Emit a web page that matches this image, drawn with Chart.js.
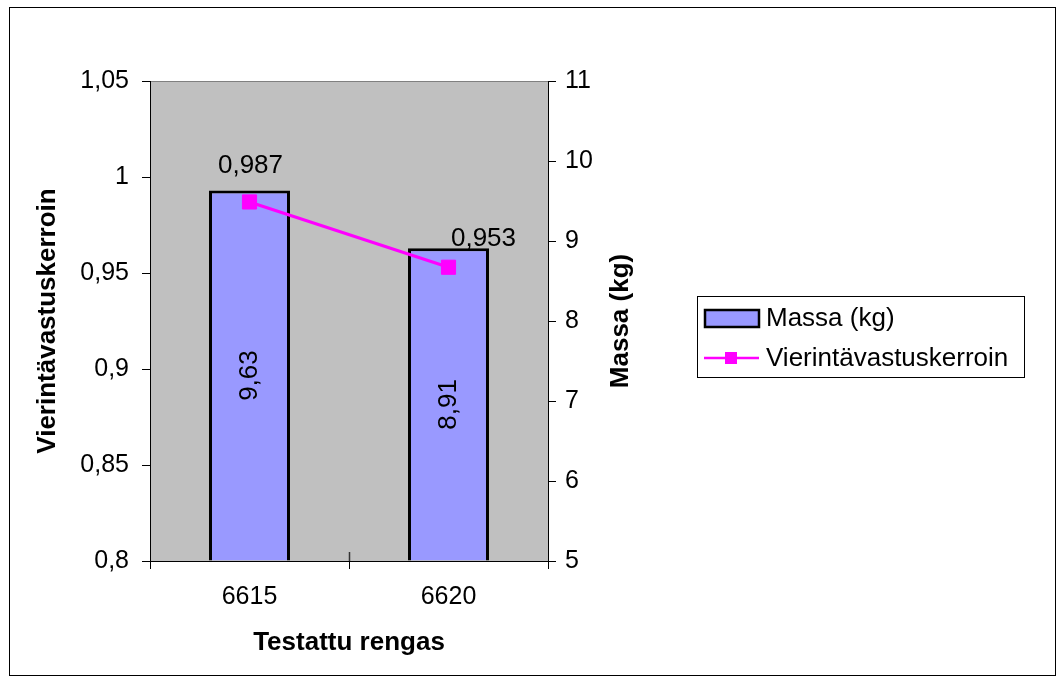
<!DOCTYPE html>
<html>
<head>
<meta charset="utf-8">
<script src="https://cdn.jsdelivr.net/npm/chart.js@4"></script>
<style>
  html, body { margin: 0; padding: 0; background: #fff; }
  #wrap { width: 1064px; height: 682px; }
</style>
</head>
<body>
<div id="wrap"><canvas id="c" width="1064" height="682"></canvas></div>
<script>
const categories = ['6615', '6620'];
const massValues = [9.63, 8.91];
const rollingValues = [0.987, 0.953];
const leftTickValues = [0.8, 0.85, 0.9, 0.95, 1, 1.05];
const leftTickLabels = ['0,8', '0,85', '0,9', '0,95', '1', '1,05'];
const rightTickValues = [5, 6, 7, 8, 9, 10, 11];
const rightTickLabels = ['5', '6', '7', '8', '9', '10', '11'];
const massLabel = 'Massa (kg)';
const rollingLabel = 'Vierintävastuskerroin';
const xTitle = 'Testattu rengas';

const FONT = '"Liberation Sans", Arial, sans-serif';
const fmt = v => String(v).replace('.', ',');

const custom = {
  id: 'custom',
  beforeDraw(chart) {
    const ctx = chart.ctx;
    const a = chart.chartArea;
    ctx.save();
    ctx.fillStyle = '#fff';
    ctx.fillRect(0, 0, chart.width, chart.height);
    ctx.strokeStyle = '#000';
    ctx.lineWidth = 1;
    ctx.strokeRect(9.5, 7.5, 1046, 668);
    ctx.fillStyle = '#C0C0C0';
    ctx.fillRect(a.left, a.top, a.right - a.left, a.bottom - a.top);
    ctx.strokeStyle = '#808080';
    ctx.beginPath();
    ctx.moveTo(a.left, a.top + 0.5);
    ctx.lineTo(a.right, a.top + 0.5);
    ctx.stroke();
    ctx.restore();
  },
  afterDatasetsDraw(chart) {
    const ctx = chart.ctx;
    const a = chart.chartArea;
    ctx.save();
    // inner part of the crossing category-boundary tick
    const xs = chart.scales.x;
    const midX = (xs.getPixelForValue(0) + xs.getPixelForValue(1)) / 2;
    ctx.strokeStyle = '#333';
    ctx.lineWidth = 1.5;
    ctx.beginPath();
    ctx.moveTo(Math.round(midX) + 0.5, a.bottom - 9);
    ctx.lineTo(Math.round(midX) + 0.5, a.bottom);
    ctx.stroke();

    ctx.fillStyle = '#000';
    ctx.font = '26px ' + FONT;
    ctx.textAlign = 'center';
    ctx.textBaseline = 'middle';
    // bar value labels (rotated, centered in bar)
    const barMeta = chart.getDatasetMeta(0);
    barMeta.data.forEach((bar, i) => {
      const cy = (bar.y + bar.base) / 2;
      ctx.save();
      ctx.translate(bar.x, cy);
      ctx.rotate(-Math.PI / 2);
      ctx.fillText(fmt(chart.data.datasets[0].data[i]), 0, 0);
      ctx.restore();
    });
    // line value labels
    const offs = [[1, -36], [35, -28]];
    const lineMeta = chart.getDatasetMeta(1);
    lineMeta.data.forEach((pt, i) => {
      ctx.fillText(fmt(chart.data.datasets[1].data[i]), pt.x + offs[i][0], pt.y + offs[i][1]);
    });
    ctx.restore();
  },
  afterDraw(chart) {
    const ctx = chart.ctx;
    const a = chart.chartArea;
    ctx.save();
    // right axis title
    ctx.fillStyle = '#000';
    ctx.font = 'bold 26px ' + FONT;
    ctx.textAlign = 'center';
    ctx.textBaseline = 'middle';
    ctx.translate(621, (a.top + a.bottom) / 2);
    ctx.rotate(-Math.PI / 2);
    ctx.fillText(massLabel, 0, 0);
    ctx.restore();

    // legend
    ctx.save();
    ctx.fillStyle = '#fff';
    ctx.fillRect(697.5, 296.5, 327, 81);
    ctx.strokeStyle = '#000';
    ctx.lineWidth = 1;
    ctx.strokeRect(697.5, 296.5, 327, 81);
    ctx.fillStyle = '#9999FF';
    ctx.fillRect(705, 310, 54, 17);
    ctx.lineWidth = 2.5;
    ctx.strokeRect(705, 310, 54, 17);
    ctx.strokeStyle = '#FF00FF';
    ctx.lineWidth = 2.5;
    ctx.beginPath();
    ctx.moveTo(704, 358);
    ctx.lineTo(759, 358);
    ctx.stroke();
    ctx.fillStyle = '#FF00FF';
    ctx.fillRect(725, 352, 12, 12);
    ctx.fillStyle = '#000';
    ctx.font = '26px ' + FONT;
    ctx.textAlign = 'left';
    ctx.textBaseline = 'middle';
    ctx.fillText(massLabel, 766, 319);
    ctx.fillText(rollingLabel, 766, 359);
    ctx.restore();
  }
};

new Chart(document.getElementById('c'), {
  type: 'bar',
  data: {
    labels: categories,
    datasets: [
      {
        type: 'bar',
        label: massLabel,
        data: massValues,
        yAxisID: 'y1',
        base: 5,
        backgroundColor: '#9999FF',
        borderColor: '#000',
        borderWidth: 3,
        barPercentage: 0.407,
        categoryPercentage: 1,
        order: 1
      },
      {
        type: 'line',
        label: rollingLabel,
        data: rollingValues,
        yAxisID: 'y',
        borderColor: '#FF00FF',
        borderWidth: 3,
        pointStyle: 'rect',
        pointRadius: 10,
        pointBackgroundColor: '#FF00FF',
        pointBorderColor: '#FF00FF',
        pointBorderWidth: 1,
        tension: 0,
        order: 0
      }
    ]
  },
  options: {
    responsive: false,
    devicePixelRatio: 1,
    animation: false,
    layout: { padding: { left: 10, top: 81, right: 416, bottom: 10 } },
    plugins: { legend: { display: false }, tooltip: { enabled: false } },
    scales: {
      x: {
        offset: true,
        grid: { offset: true, drawOnChartArea: false, tickLength: 8, color: '#000', tickColor: '#000' },
        border: { color: '#000', width: 1 },
        ticks: { padding: 13, color: '#000', font: { family: FONT, size: 25 } },
        title: { display: true, text: xTitle, color: '#000', font: { family: FONT, size: 26, weight: 'bold' }, padding: { top: 0, bottom: 14 } },
        afterFit: s => { s.height = 111; }
      },
      y: {
        position: 'left',
        min: 0.8, max: 1.05,
        afterBuildTicks: s => { s.ticks = leftTickValues.map(v => ({ value: v })); },
        ticks: { padding: 13, color: '#000', font: { family: FONT, size: 25 }, callback: (v, i) => leftTickLabels[i] },
        grid: { drawOnChartArea: false, tickLength: 8, color: '#000', tickColor: '#000' },
        border: { color: '#000', width: 1 },
        title: { display: true, text: rollingLabel, color: '#000', font: { family: FONT, size: 26, weight: 'bold' }, padding: { top: 22, bottom: 0 } },
        afterFit: s => { s.width = 140; }
      },
      y1: {
        position: 'right',
        min: 5, max: 11,
        afterBuildTicks: s => { s.ticks = rightTickValues.map(v => ({ value: v })); },
        ticks: { padding: 9, color: '#000', font: { family: FONT, size: 25 }, callback: (v, i) => rightTickLabels[i] },
        grid: { drawOnChartArea: false, tickLength: 8, color: '#000', tickColor: '#000' },
        border: { color: '#000', width: 1 },
        afterFit: s => { s.width = 100; }
      }
    }
  },
  plugins: [custom]
});
</script>
</body>
</html>
